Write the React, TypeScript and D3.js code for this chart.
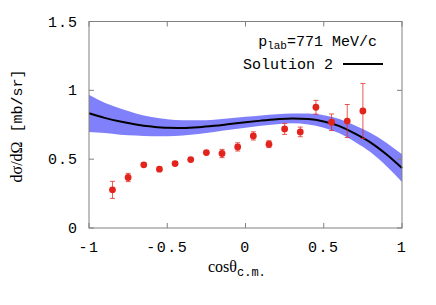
import * as d3 from 'd3';

// measured points
const dataX = [-0.85, -0.75, -0.65, -0.55, -0.45, -0.35, -0.25, -0.15, -0.05, 0.05, 0.15, 0.25, 0.35, 0.45, 0.55, 0.65, 0.75];
const dataY = [0.277, 0.367, 0.459, 0.427, 0.468, 0.497, 0.548, 0.541, 0.589, 0.669, 0.609, 0.72, 0.698, 0.877, 0.768, 0.777, 0.85];
const dataErr = [0.062, 0.03, 0.012, 0.012, 0.012, 0.012, 0.015, 0.03, 0.03, 0.03, 0.025, 0.04, 0.035, 0.05, 0.06, 0.12, 0.2];

// Solution 2 curve with uncertainty band
const curveX = [-1, -0.9, -0.8, -0.7, -0.6, -0.5, -0.4, -0.3, -0.2, -0.1, 0, 0.1, 0.2, 0.3, 0.4, 0.5, 0.6, 0.7, 0.8, 0.9, 1];
const curveY = [0.833, 0.8, 0.773, 0.752, 0.737, 0.728, 0.727, 0.732, 0.742, 0.755, 0.768, 0.78, 0.79, 0.796, 0.792, 0.774, 0.74, 0.685, 0.62, 0.535, 0.435];
const bandW = [0.135, 0.11, 0.095, 0.08, 0.07, 0.062, 0.055, 0.05, 0.045, 0.042, 0.04, 0.038, 0.036, 0.036, 0.04, 0.045, 0.052, 0.06, 0.07, 0.085, 0.1];

const xTicks = [-1, -0.5, 0, 0.5, 1];
const yTicks = [0, 0.5, 1, 1.5];

const W = 436, H = 305;
const L = 89, R = 402, T = 21.5, B = 228;
const FONT = '"Liberation Mono", "DejaVu Sans Mono", monospace';
const SERIF = '"Liberation Serif", "DejaVu Serif", serif';
const AXIS = '#808080';
const RED = '#e3241c';

export default function App() {
  const x = d3.scaleLinear().domain([-1, 1]).range([L, R]);
  const y = d3.scaleLinear().domain([0, 1.5]).range([B, T]);

  const pts = curveX.map((cx, i) => ({ x: cx, y: curveY[i], w: bandW[i] }));
  const line = d3.line<typeof pts[0]>().x(d => x(d.x)).y(d => y(d.y)).curve(d3.curveMonotoneX);
  const band = d3.area<typeof pts[0]>()
    .x(d => x(d.x))
    .y0(d => y(d.y - d.w))
    .y1(d => y(d.y + d.w))
    .curve(d3.curveMonotoneX);

  return (
    <svg width={W} height={H} style={{ position: 'absolute', left: 0, top: 0, background: '#fff' }}>
      <path d={band(pts) || ''} fill="#8080fa" />
      <path d={line(pts) || ''} fill="none" stroke="#000" strokeWidth={2} />

      {dataX.map((dx, i) => {
        const cx = x(dx);
        const top = y(dataY[i] + dataErr[i]);
        const bot = y(dataY[i] - dataErr[i]);
        return (
          <g key={i}>
            <line x1={cx} x2={cx} y1={top} y2={bot} stroke={RED} strokeWidth={1} opacity={0.75} />
            <line x1={cx - 2.5} x2={cx + 2.5} y1={top} y2={top} stroke={RED} strokeWidth={1} opacity={0.75} />
            <line x1={cx - 2.5} x2={cx + 2.5} y1={bot} y2={bot} stroke={RED} strokeWidth={1} opacity={0.75} />
            <circle cx={cx} cy={y(dataY[i])} r={3.4} fill={RED} />
          </g>
        );
      })}

      <rect x={L} y={T} width={R - L} height={B - T} fill="none" stroke={AXIS} strokeWidth={1} />
      {xTicks.map(t => (
        <g key={'x' + t}>
          <line x1={x(t)} x2={x(t)} y1={B} y2={B - 5} stroke={AXIS} />
          <line x1={x(t)} x2={x(t)} y1={T} y2={T + 5} stroke={AXIS} />
          <text x={x(t)} y={252} fontFamily={FONT} fontSize={15} textAnchor="middle" letterSpacing={1.5}>{String(t)}</text>
        </g>
      ))}
      {yTicks.map(t => (
        <g key={'y' + t}>
          <line x1={L} x2={L + 5} y1={y(t)} y2={y(t)} stroke={AXIS} />
          <line x1={R} x2={R - 5} y1={y(t)} y2={y(t)} stroke={AXIS} />
          <text x={78} y={y(t) + 5} fontFamily={FONT} fontSize={15} textAnchor="end" letterSpacing={1}>{String(t)}</text>
        </g>
      ))}

      <text x={208} y={272} fontFamily={SERIF} fontSize={16}>
        cosθ<tspan fontFamily={FONT} fontSize={12} dy={4}>c.m.</tspan>
      </text>
      <text transform="translate(22,126) rotate(-90)" fontSize={16} textAnchor="middle">
        <tspan fontFamily={SERIF}>dσ/dΩ</tspan><tspan fontFamily={FONT} fontSize={15}>  [mb/sr]</tspan>
      </text>

      <text x={377} y={46} fontFamily={FONT} fontSize={15} textAnchor="end">
        p<tspan fontSize={11} dy={3}>lab</tspan><tspan dy={-3}>=771 MeV/c</tspan>
      </text>
      <text x={333} y={69} fontFamily={FONT} fontSize={15} textAnchor="end">Solution 2</text>
      <line x1={343} x2={383} y1={64} y2={64} stroke="#000" strokeWidth={2} />
    </svg>
  );
}
